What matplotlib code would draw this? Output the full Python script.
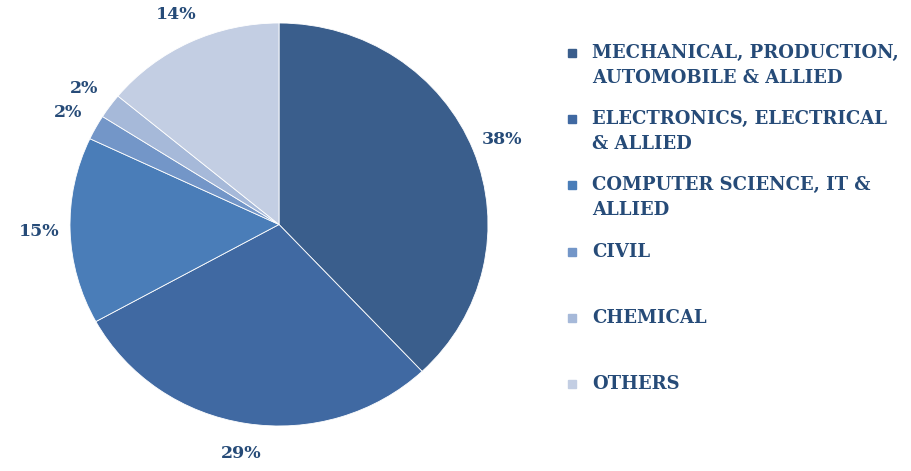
import matplotlib.pyplot as plt
from matplotlib.patches import Rectangle

categories = ['MECHANICAL, PRODUCTION,\nAUTOMOBILE & ALLIED',
              'ELECTRONICS, ELECTRICAL\n& ALLIED',
              'COMPUTER SCIENCE, IT &\nALLIED',
              'CIVIL',
              'CHEMICAL',
              'OTHERS']
shares = [38, 29, 15, 2, 2, 14]
colors = ['#3a5e8c', '#4069a2', '#4a7db8', '#7396c8', '#a6b9d9', '#c3cee3']
text_color = '#264b78'

fig = plt.figure(figsize=(9.12, 4.71), dpi=100)
# the original pie is slightly stretched sideways, so no equal aspect
ax = fig.add_axes([70 / 912, 45 / 471, 418 / 912, 403 / 471])

wedges, texts, autotexts = ax.pie(
    shares, colors=colors, startangle=90, counterclock=False,
    autopct='%1.0f%%', pctdistance=1.15,
    wedgeprops=dict(edgecolor='white', linewidth=0.6),
    textprops=dict(color=text_color, fontsize=12.5, fontweight='bold',
                   family='DejaVu Serif'))
ax.set_aspect('auto')
ax.set_xlim(-1, 1)
ax.set_ylim(-1, 1)

# legend built by hand so each entry starts at an even step
top = 1 - 44 / 471
step = 66.2 / 471
for i, (lab, col) in enumerate(zip(categories, colors)):
    y = top - i * step
    fig.patches.append(Rectangle((568 / 912, y - 13 / 471), 8 / 912, 8 / 471,
                                 transform=fig.transFigure, color=col))
    fig.text(592 / 912, y, lab, va='top', ha='left', color=text_color,
             fontsize=13, fontweight='bold', family='DejaVu Serif',
             linespacing=1.5)

plt.savefig('out.png', dpi=100)
